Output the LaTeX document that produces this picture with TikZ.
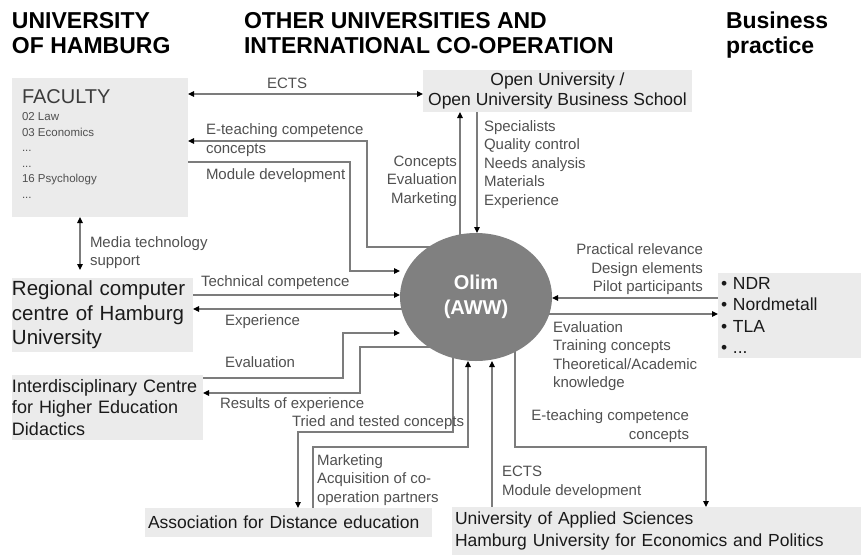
\documentclass[tikz,border=0pt]{standalone}
\usepackage{fontspec}
\setmainfont{Liberation Sans}
\usetikzlibrary{arrows.meta,shapes.geometric,backgrounds}
\definecolor{boxfill}{HTML}{EBEBEB}
\definecolor{ellfill}{HTML}{808080}
\definecolor{linec}{HTML}{7C7C7C}
\definecolor{labc}{HTML}{505050}
\definecolor{boxtxt}{HTML}{1A1A1A}
\tikzset{
  every node/.style={inner sep=0pt, outer sep=0pt},
  head/.style={anchor=north west, align=left, font=\fontsize{23}{25}\selectfont\bfseries, text=black},
  box/.style={fill=boxfill, draw=none, anchor=north west, text=boxtxt},
  lab/.style={font=\fontsize{15}{18.5}\selectfont, text=labc},
  conn/.style={draw=linec, line width=1.2pt, -{Triangle[length=6pt,width=5.5pt,color=black]}},
  conn2/.style={draw=linec, line width=1.2pt, {Triangle[length=6pt,width=5.5pt,color=black]}-{Triangle[length=6pt,width=5.5pt,color=black]}},
}
\begin{document}
\begin{tikzpicture}[x=1pt,y=-1pt]
\useasboundingbox (0,0) rectangle (861,555);
% headings
\node[head] (h1) at (12,12) {UNIVERSITY\\OF HAMBURG};
\node[head] (h2) at (244,12) {OTHER UNIVERSITIES AND\\INTERNATIONAL CO-OPERATION};
\node[head] (h3) at (726,12) {Business\\practice};
% boxes
\node[box, minimum width=176, minimum height=139] (fac) at (12,78) {};
\node[anchor=west, font=\fontsize{20}{22}\selectfont, text=boxtxt!85] (factitle) at (22,97) {FACULTY};
\node[anchor=north west, align=left, font=\fontsize{11.5}{15.5}\selectfont, text=labc] (faclist) at (22,112.5)
  {02 Law\\03 Economics\\...\\...\\16 Psychology\\...};
\node[box, minimum width=269, minimum height=42, align=center,
  font=\fontsize{17.5}{20}\selectfont] (ou) at (423,70) {Open University /\\Open University Business School};
\node[box, minimum width=181, minimum height=74, text width=181, align=left,
  font=\fontsize{20.5}{24.5}\selectfont] (reg) at (12,278) {\mbox{Regional computer}\\\mbox{centre of Hamburg}\\University};
\node[box, minimum width=191, minimum height=65, text width=191, align=left,
  font=\fontsize{18}{21.5}\selectfont] (idc) at (12,375) {\mbox{Interdisciplinary Centre}\\\mbox{for Higher Education}\\Didactics};
\node[box, minimum width=287, minimum height=29, text width=281, inner xsep=3, align=left,
  font=\fontsize{17.5}{21.5}\selectfont] (ass) at (145,508) {\mbox{Association for Distance education}};
\node[box, minimum width=409, minimum height=48, text width=403, inner xsep=3, align=left,
  font=\fontsize{17.5}{22}\selectfont] (uas) at (452,507) {\mbox{University of Applied Sciences}\\\mbox{Hamburg University for Economics and Politics}};
\node[box, minimum width=143, minimum height=85, text width=137, inner xsep=3, align=left,
  font=\fontsize{17.5}{21.5}\selectfont] (ndr) at (718,273) {\textbullet\ NDR\\\textbullet\ Nordmetall\\\textbullet\ TLA\\\textbullet\ ...};
% central ellipse
\node[ellipse, fill=ellfill, minimum width=152, minimum height=128, text=white, align=center,
  font=\fontsize{20}{25}\selectfont\bfseries] (olim) at (476,297) {Olim\\(AWW)};
% labels
\node[lab] (lECTS) at (287,83) {ECTS};
\node[lab, anchor=west, align=left] (lEteach) at (206,140) {E-teaching competence\\concepts};
\node[lab, anchor=west] (lModule) at (206,176) {Module development};
\node[lab, anchor=east, align=right] (lConc) at (457,181) {Concepts\\Evaluation\\Marketing};
\node[lab, anchor=west, align=left] (lSpec) at (484,164.5) {Specialists\\Quality control\\Needs analysis\\Materials\\Experience};
\node[lab, anchor=west, align=left] (lMedia) at (90,252.5) {Media technology\\support};
\node[lab, anchor=west] (lTech) at (201,283) {Technical competence};
\node[lab, anchor=west] (lExp) at (225,322) {Experience};
\node[lab, anchor=west] (lEval) at (225,362) {Evaluation};
\node[lab, anchor=west] (lRes) at (220,405) {Results of experience};
\node[lab, anchor=west] (lTried) at (292,423) {Tried and tested concepts};
\node[lab, anchor=west, align=left] (lMark) at (317,480) {Marketing\\Acquisition of co-\\operation partners};
\node[lab, anchor=west, align=left] (lECTS2) at (502,482.5) {ECTS\\Module development};
\node[lab, anchor=east, align=right] (lEteach2) at (689,426) {E-teaching competence\\concepts};
\node[lab, anchor=east, align=right] (lPrac) at (703,269.5) {Practical relevance\\Design elements\\Pilot participants};
\node[lab, anchor=west, align=left] (lEval2) at (553,356) {Evaluation\\Training concepts\\Theoretical/Academic\\knowledge};
% connectors
\begin{pgfonlayer}{background}
\draw[conn2] (fac.east |- 0,94) -- (ou.west |- 0,94);
\draw[conn] (olim.center |- 0,247) -- (367,247) -- (367,141) -- (fac.east |- 0,141);
\draw[conn] (fac.east |- 0,162) -- (350,162) -- (350,271) -- (olim.west |- 0,271);
\draw[conn] (olim.center -| 460,0) -- (ou.south -| 460,0);
\draw[conn] (ou.south -| 477,0) -- (olim.north -| 477,0);
\draw[conn2, shorten >=8pt] (fac.south -| 80,0) -- (reg.north -| 80,0);
\draw[conn] (reg.east |- 0,295) -- (olim.west |- 0,295);
\draw[conn] (olim.center |- 0,309) -- (reg.east |- 0,309);
\draw[conn] (idc.east |- 0,378) -- (343,378) -- (343,333) -- (olim.west |- 0,333);
\draw[conn] (olim.center |- 0,347) -- (360,347) -- (360,393) -- (idc.east |- 0,393);
\draw[conn] (olim.center -| 453,0) -- (453,432) -- (298,432) -- (ass.north -| 298,0);
\draw[conn] (ass.north -| 313,0) -- (313,447) -- (468,447) -- (olim.south -| 468,0);
\draw[conn] (uas.north -| 492,0) -- (olim.south -| 492,0);
\draw[conn] (olim.center -| 515,0) -- (515,447) -- (706,447) -- (uas.north -| 706,0);
\draw[conn] (ndr.west |- 0,298) -- (olim.east |- 0,298);
\draw[conn] (olim.center |- 0,314) -- (ndr.west |- 0,314);
\end{pgfonlayer}
\end{tikzpicture}
\end{document}
